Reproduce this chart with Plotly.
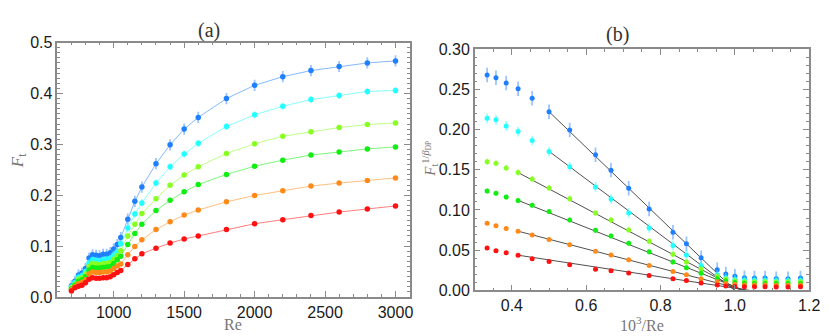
import plotly.graph_objects as go

# ---------------- data ----------------
re_vals = [700, 725, 750, 775, 800, 825, 850, 875, 900, 925, 950, 975, 1000, 1025,
           1050, 1100, 1150, 1200, 1300, 1400, 1500, 1600, 1800, 2000, 2200, 2400, 2600, 2800, 3000]

ft_blue = [0.022, 0.031, 0.0435, 0.047, 0.056, 0.0765, 0.083, 0.082, 0.081, 0.084, 0.084, 0.087, 0.0945, 0.103,
           0.117, 0.153, 0.188, 0.216, 0.262, 0.299, 0.330, 0.353, 0.390, 0.416, 0.433, 0.445, 0.453, 0.460, 0.464]
ft_cyan = [0.020, 0.028, 0.039, 0.042, 0.050, 0.067, 0.073, 0.072, 0.071, 0.073, 0.074, 0.076, 0.082, 0.089,
           0.1045, 0.1355, 0.163, 0.185, 0.224, 0.256, 0.281, 0.302, 0.335, 0.358, 0.375, 0.388, 0.396, 0.404, 0.406]
ft_lgreen = [0.018, 0.025, 0.035, 0.038, 0.045, 0.060, 0.066, 0.065, 0.064, 0.066, 0.066, 0.068, 0.074, 0.081,
             0.091, 0.120, 0.143, 0.164, 0.193, 0.2195, 0.240, 0.256, 0.282, 0.301, 0.316, 0.325, 0.333, 0.339, 0.342]
ft_green = [0.016, 0.023, 0.031, 0.034, 0.040, 0.053, 0.058, 0.057, 0.057, 0.058, 0.059, 0.060, 0.066, 0.073,
            0.080, 0.103, 0.125, 0.143, 0.170, 0.190, 0.207, 0.221, 0.241, 0.257, 0.269, 0.279, 0.285, 0.291, 0.295]
ft_orange = [0.014, 0.020, 0.026, 0.029, 0.034, 0.045, 0.049, 0.048, 0.048, 0.049, 0.049, 0.051, 0.056, 0.061,
             0.065, 0.083, 0.0995, 0.1125, 0.1325, 0.148, 0.161, 0.171, 0.187, 0.1996, 0.209, 0.218, 0.224, 0.229, 0.234]
ft_red = [0.012, 0.018, 0.021, 0.023, 0.028, 0.035, 0.038, 0.037, 0.037, 0.038, 0.038, 0.040, 0.044, 0.048,
          0.052, 0.064, 0.075, 0.085, 0.096, 0.106, 0.114, 0.120, 0.1325, 0.144, 0.152, 0.160, 0.167, 0.173, 0.179]

ft_err = [0.011, 0.007, 0.005, 0.004, 0.003, 0.003]   # typical error-bar half-heights per series

# right panel: Re values shown (3000 down to 850)
re_right = [3000, 2800, 2600, 2400, 2200, 2000, 1800, 1600, 1500, 1400, 1300, 1200, 1150, 1100,
            1050, 1025, 1000, 975, 950, 925, 900, 875, 850]
g_blue = [0.268, 0.2645, 0.258, 0.2507, 0.239, 0.2223, 0.1995, 0.1688, 0.1496, 0.1271, 0.1012, 0.0724,
          0.0579, 0.0405, 0.0256, 0.0204, 0.0177, 0.0157, 0.0153, 0.0153, 0.0145, 0.0145, 0.0153]
g_cyan = [0.214, 0.2122, 0.2046, 0.1975, 0.1865, 0.1727, 0.1538, 0.1287, 0.1137, 0.0964, 0.0776, 0.0559,
          0.0441, 0.0311, 0.0193, 0.0157, 0.0138, 0.0128, 0.0126, 0.0126, 0.0124, 0.0124, 0.0126]
g_lgreen = [0.160, 0.158, 0.1523, 0.1466, 0.1385, 0.1275, 0.1141, 0.0964, 0.0874, 0.0752, 0.061, 0.0449,
            0.0354, 0.0263, 0.0173, 0.0138, 0.0118, 0.0108, 0.0106, 0.0106, 0.0104, 0.0104, 0.0106]
g_green = [0.1236, 0.1208, 0.1161, 0.1118, 0.1059, 0.098, 0.0874, 0.0747, 0.0677, 0.0587, 0.048, 0.0354,
           0.0283, 0.0213, 0.0145, 0.0118, 0.0098, 0.0089, 0.0087, 0.0087, 0.0085, 0.0085, 0.0087]
g_orange = [0.0835, 0.0803, 0.0771, 0.0736, 0.0689, 0.0634, 0.0567, 0.0488, 0.0441, 0.0382, 0.0311, 0.0236,
            0.0193, 0.0145, 0.0106, 0.0087, 0.0075, 0.0068, 0.0067, 0.0067, 0.0065, 0.0065, 0.0067]
g_red = [0.0528, 0.0492, 0.0468, 0.0437, 0.0393, 0.0358, 0.0319, 0.0263, 0.0244, 0.0216, 0.0185, 0.0145,
         0.0122, 0.0091, 0.0067, 0.0055, 0.0047, 0.0045, 0.0044, 0.0044, 0.0043, 0.0043, 0.0044]
g_err = [0.009, 0.006, 0.004, 0.003, 0.002, 0.002]

# linear fits in right panel: start of fit range, x-intercept, slope magnitude
fit_x_start = [0.5, 0.5, 0.417, 0.417, 0.417, 0.417]
fit_x_crit = [1.0, 1.0, 1.016, 1.025, 1.030, 1.039]
fit_slope = [0.4445, 0.346, 0.2445, 0.184, 0.120, 0.0703]

colors = ["#1f7fff", "#22ffff", "#88ff22", "#11ee11", "#ff8a1a", "#ff1111"]
rgb = [(31, 127, 255), (34, 255, 255), (136, 255, 34), (17, 238, 17), (255, 138, 26), (255, 17, 17)]

left_series = [ft_blue, ft_cyan, ft_lgreen, ft_green, ft_orange, ft_red]
right_series = [g_blue, g_cyan, g_lgreen, g_green, g_orange, g_red]

fig = go.Figure()

for s, c, (r, g, b), e in zip(left_series, colors, rgb, ft_err):
    fig.add_trace(go.Scatter(
        x=re_vals, y=s, mode="lines+markers", xaxis="x", yaxis="y",
        line=dict(color=f"rgba({r},{g},{b},0.55)", width=1),
        marker=dict(color=c, size=5.5),
        error_y=dict(type="data", array=[e] * len(s), color=f"rgba({r},{g},{b},0.45)",
                     thickness=1.8, width=0),
        showlegend=False, hoverinfo="skip"))

inv_re = [1000.0 / v for v in re_right]

for xs, xc, a in zip(fit_x_start, fit_x_crit, fit_slope):
    fig.add_trace(go.Scatter(
        x=[xs, xc], y=[a * (xc - xs), 0.0], mode="lines", xaxis="x2", yaxis="y2",
        line=dict(color="#505050", width=1), showlegend=False, hoverinfo="skip"))

for s, c, (r, g, b), e in zip(right_series, colors, rgb, g_err):
    fig.add_trace(go.Scatter(
        x=inv_re, y=s, mode="markers", xaxis="x2", yaxis="y2",
        marker=dict(color=c, size=5),
        error_y=dict(type="data", array=[e] * len(s), color=f"rgba({r},{g},{b},0.45)",
                     thickness=1.8, width=0),
        showlegend=False, hoverinfo="skip", cliponaxis=True))

axis_common = dict(showline=True, linecolor="#8a8a8a", linewidth=1.5, mirror="allticks",
                   ticks="inside", ticklen=6, tickcolor="#8a8a8a", tickwidth=1,
                   showgrid=False, zeroline=False,
                   tickfont=dict(family="Liberation Sans, Arial, sans-serif", size=16, color="#1a1a1a"))

W, H = 830, 336
fig.update_layout(
    width=W, height=H, margin=dict(l=0, r=0, t=0, b=0),
    paper_bgcolor="white", plot_bgcolor="white",
    xaxis=dict(domain=[50 / W, 407 / W], range=[600, 3100], tickvals=[1000, 1500, 2000, 2500, 3000],
               minor=dict(dtick=100, tick0=0, ticks="inside", ticklen=3, tickcolor="#8a8a8a"),
               anchor="y", **axis_common),
    yaxis=dict(domain=[1 - 296 / H, 1 - 28 / H], range=[0, 0.5], tickvals=[0, 0.1, 0.2, 0.3, 0.4, 0.5],
               ticktext=["0.0", "0.1", "0.2", "0.3", "0.4", "0.5"],
               minor=dict(dtick=0.01, tick0=0, ticks="inside", ticklen=3, tickcolor="#8a8a8a"),
               anchor="x", **axis_common),
    xaxis2=dict(domain=[473 / W, 812 / W], range=[0.3, 1.2], tickvals=[0.4, 0.6, 0.8, 1.0, 1.2],
                ticktext=["0.4", "0.6", "0.8", "1.0", "1.2"],
                minor=dict(dtick=0.05, tick0=0, ticks="inside", ticklen=3, tickcolor="#8a8a8a"),
                anchor="y2", **axis_common),
    yaxis2=dict(domain=[1 - 289 / H, 1 - 35 / H], range=[0, 0.30],
                tickvals=[0, 0.05, 0.10, 0.15, 0.20, 0.25, 0.30],
                ticktext=["0.00", "0.05", "0.10", "0.15", "0.20", "0.25", "0.30"],
                minor=dict(dtick=0.01, tick0=0, ticks="inside", ticklen=3, tickcolor="#8a8a8a"),
                anchor="x2", **axis_common),
)

serif = "Liberation Serif, DejaVu Serif, serif"
ann = [
    dict(text="(a)", x=204 / W, y=1 - 15 / H, font=dict(family=serif, size=20, color="#333")),
    dict(text="(b)", x=618 / W, y=1 - 20 / H, font=dict(family=serif, size=20, color="#333")),
    dict(text="Re", x=228 / W, y=1 - 325 / H, font=dict(family=serif, size=16, color="#777")),
    dict(text="10<sup>3</sup>/Re", x=643 / W, y=1 - 324 / H, font=dict(family=serif, size=16, color="#777")),
    dict(text="<i>F</i><sub>t</sub>", x=11 / W, y=1 - 152 / H, textangle=-90,
         font=dict(family=serif, size=17, color="#777")),
    dict(text="<i>F</i><sub>t</sub><sup>1/<i>β</i><sub>DP</sub></sup>", x=428 / W, y=1 - 150 / H, textangle=-90,
         font=dict(family=serif, size=15, color="#777")),
]
for a in ann:
    a.update(xref="paper", yref="paper", showarrow=False, xanchor="center", yanchor="middle")
fig.update_layout(annotations=ann)

fig.write_html("out.html")
